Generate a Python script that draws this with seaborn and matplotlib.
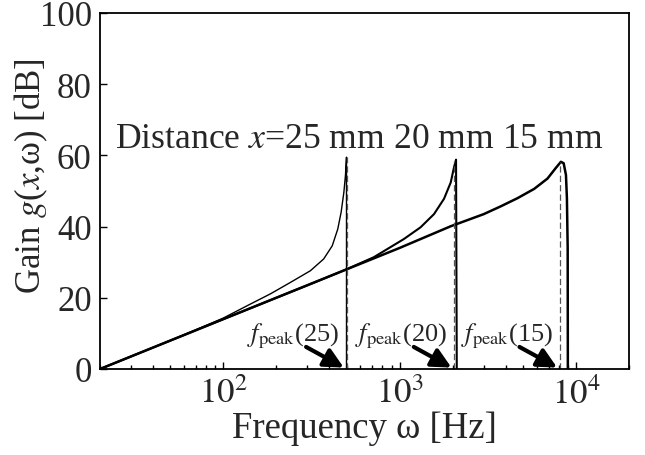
import matplotlib
matplotlib.use("Agg")
import matplotlib.pyplot as plt
import seaborn as sns
import pandas as pd

# ---- data ----
freq_25 = [20, 60, 100, 142, 185, 240, 312, 371, 415, 446, 466, 483, 493, 500, 500]
gain_25 = [0, 9.6, 14.3, 18.2, 21.1, 24.3, 27.6, 30.9, 34.6, 39.3, 44.0, 49.6, 54.3, 59.5, 0]

freq_20 = [20, 100, 300, 500, 714, 1057, 1315, 1567, 1786, 1950, 2036, 2090, 2110]
gain_20 = [0, 14.0, 23.5, 28.0, 31.4, 36.5, 39.8, 43.5, 47.8, 52.4, 56.7, 58.8, 0]

freq_15 = [20, 100, 1000, 1950, 3000, 3750, 4670, 5800, 6900, 7700, 8220, 8520, 8780, 8890, 8980, 9000]
gain_15 = [0, 14.0, 34.0, 40.1, 43.5, 45.7, 48.0, 50.6, 53.5, 56.5, 58.2, 57.8, 54.5, 48.0, 34.0, 0]

distances = [25, 20, 15]
f_peak = [500, 2040, 8110]
g_peak = [59.5, 58.5, 58.2]
title_text = "Distance $x$=25 mm 20 mm 15 mm"
xtick_vals = [100, 1000, 10000]
xtick_labels = ["$10^{2}$", "$10^{3}$", "$10^{4}$"]
ytick_vals = [0, 20, 40, 60, 80, 100]

frames = []
for d, f, g in [(25, freq_25, gain_25), (20, freq_20, gain_20), (15, freq_15, gain_15)]:
    frames.append(pd.DataFrame({"freq": f, "gain": g, "dist": d}))
df = pd.concat(frames, ignore_index=True)

sns.set_theme(style="ticks")
plt.rcParams["font.family"] = ["Liberation Serif", "DejaVu Serif"]
plt.rcParams["mathtext.fontset"] = "stix"
plt.rcParams["xtick.direction"] = "in"
plt.rcParams["ytick.direction"] = "in"

fig = plt.figure(figsize=(6.45, 4.56), dpi=100)
ax = fig.add_axes([100 / 645, 1 - 370 / 456, 529 / 645, 356 / 456])
ax.set_xscale("log")

widths = {25: 1.0, 20: 1.5, 15: 1.8}
for d in distances:
    sub = df[df["dist"] == d]
    sns.lineplot(data=sub, x="freq", y="gain", ax=ax, color="black",
                 lw=widths[d], estimator=None, sort=False)

# dashed peak markers
for fp, gp in zip(f_peak, g_peak):
    ax.vlines(fp, 0, gp, colors="#555555", linestyles=(0, (5, 2.5)), lw=0.9)

# arrows and labels
for d, fp in zip(distances, f_peak):
    ax.annotate("", xy=(fp * 0.965, 0.4), xytext=(fp * 0.59, 6.2),
                arrowprops=dict(arrowstyle="-|>,head_length=0.9,head_width=0.45",
                                lw=3, color="black", mutation_scale=13,
                                shrinkA=0, shrinkB=0))
    ax.text(fp * 0.5, 9.5, "$f_{\\rm peak}$(%d)" % d, ha="center", va="center",
            fontsize=19)

ax.text(0.028, 62.4, title_text, transform=ax.get_yaxis_transform(),
        ha="left", va="baseline", fontsize=25.7)

ax.set_xlim(20, 20000)
ax.set_ylim(0, 100)
ax.set_xticks(xtick_vals)
ax.set_xticklabels(xtick_labels, fontsize=25)
ax.set_yticks(ytick_vals)
ax.set_yticklabels([str(v) for v in ytick_vals], fontsize=25)
ax.tick_params(axis="both", which="major", length=5, width=1, color="black", pad=6)
ax.tick_params(axis="x", which="minor", length=3, width=1, color="black")
ax.tick_params(axis="y", which="minor", left=False)
ax.set_xlabel("Frequency ω [Hz]", fontsize=26.5, labelpad=0)
ax.set_ylabel("Gain $g$($x$,ω) [dB]", fontsize=25)
ax.yaxis.set_label_coords(-0.095, 0.5435)
for s in ax.spines.values():
    s.set_visible(True)
    s.set_color("black")
    s.set_linewidth(1.3)

fig.savefig("out.png", dpi=100, facecolor="white")
